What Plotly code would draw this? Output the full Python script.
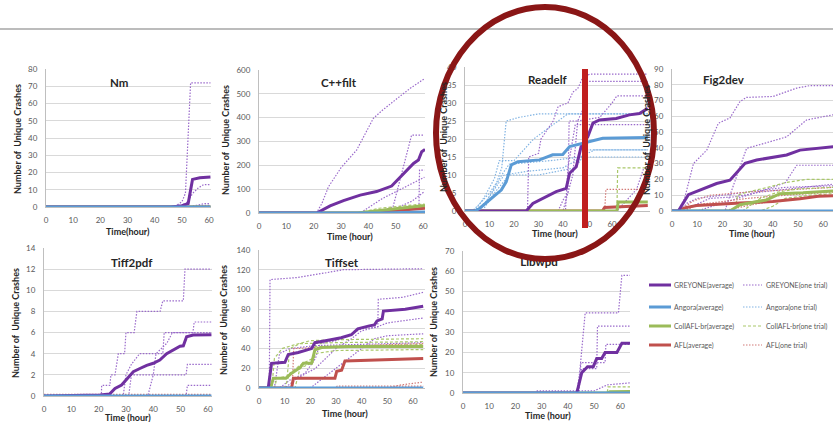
import plotly.graph_objects as go

W, H = 833, 422
PURPLE, PURPLE_T = "#7030A0", "#9A6ACB"
BLUE, BLUE_T = "#5B9BD5", "#82B4E3"
GREEN, GREEN_T = "#9BBB59", "#A9C76A"
RED, RED_T = "#C0504D", "#D27B78"

# ---------------- data: (hour, unique crashes) ----------------
# Nm
nm_greyone_avg = [(0, 0), (46, 0), (50, 0.8), (52.3, 2), (53.9, 16), (56.6, 17), (60.5, 17.4)]
nm_greyone_trials = [
    [(0, 0), (47, 0), (48, 1), (50, 3), (51.3, 8), (53.2, 72), (60.5, 72)],
    [(0, 0), (48, 0), (50, 1), (52, 3), (54, 8), (56, 11), (58, 13), (60.5, 13)],
    [(0, 0), (54, 0), (56, 1), (58, 2), (60.5, 2)],
    [(0, 0), (53, 0), (55, 1), (60.5, 1)],
]
nm_angora_avg = [(0, 0), (60.5, 0)]
nm_collafl_avg = [(0, 0), (60.5, 0)]
nm_afl_avg = [(0, 0), (60.5, 0)]

# C++filt
cf_greyone_avg = [(0, 0), (21.1, 0), (26, 30), (30.9, 52), (37, 75), (43, 90), (48.5, 113), (52.8, 166),
                  (56.5, 208), (58.3, 222), (59.5, 257), (60.7, 267)]
cf_greyone_trials = [
    [(0, 0), (21, 0), (23, 40), (25.4, 110), (30, 190), (35.7, 264), (41.8, 397), (45, 430), (49.8, 474),
     (55.3, 523), (60.7, 565)],
    [(0, 0), (40, 0), (45, 10), (49, 25), (55.8, 327), (60.4, 327)],
    [(0, 0), (37, 0), (45, 60), (52, 100), (60.5, 150)],
    [(0, 0), (38, 0), (50, 15), (58.5, 30), (58.7, 180), (60.5, 180)],
    [(0, 0), (42, 0), (50, 20), (56, 50), (60.5, 90)],
]
cf_collafl_avg = [(0, 0), (36, 0), (45, 12), (52, 22), (60.7, 32)]
cf_collafl_trials = [
    [(0, 0), (36, 0), (44, 20), (52, 30), (60.5, 38)],
    [(0, 0), (40, 0), (50, 15), (60.5, 25)],
]
cf_afl_avg = [(0, 0), (40, 0), (48, 8), (55, 15), (60.7, 20)]
cf_afl_trials = [[(0, 0), (42, 0), (50, 12), (60.5, 28)]]
cf_angora_avg = [(0, 0), (45, 0), (60.7, 4)]

# Readelf
re_angora_avg = [(0, 0), (4, 0), (5.9, 0.7), (8.6, 2.3), (11.3, 4), (14.8, 5.8), (16.8, 8.1), (18.9, 12.8),
                 (21.6, 13.7), (30.4, 14.2), (35.8, 15.6), (39.9, 15.7), (42.7, 17.9), (48.1, 18.8),
                 (53.6, 19.7), (56.2, 20.2), (74.6, 20.4)]
re_angora_trials = [
    [(0, 0), (3, 0), (6, 2), (10, 5), (13, 8), (15, 12), (16.8, 25), (22, 26), (30.4, 27), (74.6, 27)],
    [(0, 0), (4, 0), (8, 4), (12, 9), (14, 14), (20, 14), (28, 20), (40, 26), (42, 27), (74.6, 27)],
    [(0, 0), (6, 0), (10, 4), (16, 10), (25, 11), (40, 12), (48, 15), (74.6, 15)],
    [(0, 0), (5, 0), (9, 3), (15, 10), (18, 13), (35, 14), (47, 15), (53, 17), (74.6, 17)],
    [(0, 0), (7, 0), (12, 5), (18, 10), (30, 10), (45, 12), (50, 17), (74.6, 17)],
]
re_greyone_avg = [(0, 0), (25, 0), (27.7, 2.1), (30.4, 3), (34.5, 4.4), (37.2, 5.4), (41.3, 6.3), (42.7, 10.5),
                  (45.4, 12.3), (47.4, 17.9), (50.1, 20.6), (52.2, 24.4), (54.9, 25.3), (61.7, 25.7),
                  (67.1, 26.7), (71.2, 27.1), (74.6, 28.5)]
re_greyone_trials = [
    [(0, 0), (25.5, 0), (26, 15), (30, 16), (31, 20), (33, 22), (36, 25), (38, 29), (42, 30), (44, 33),
     (46, 34), (48, 37), (50.8, 38), (74.6, 38)],
    [(0, 0), (38, 0), (40, 3), (42, 5), (42.5, 25), (46, 25), (48, 28), (50, 36), (74.6, 36)],
    [(0, 0), (40, 0), (44, 10), (46, 25), (55, 26), (60, 30), (62, 32), (74.6, 32)],
    [(0, 0), (41, 0), (42, 12), (45, 24), (74.6, 24)],
    [(0, 0), (62, 0), (66, 3), (70, 6), (73, 12), (74.6, 12)],
]
re_collafl_avg = [(0, 0), (62, 0), (62.5, 2.5), (74.6, 2.5)]
re_collafl_trials = [[(0, 0), (62, 0), (62.3, 12), (74.6, 12)]]
re_afl_avg = [(0, 0), (56, 0), (57, 1), (62, 1.2), (74.6, 1.5)]
re_afl_trials = [[(0, 0), (57, 0), (57.5, 6), (74.6, 6)]]

# Fig2dev
fd_greyone_avg = [(0, 0), (2.5, 0), (6.5, 10.4), (11.1, 13.2), (17.7, 17.4), (23, 19.5), (29, 30.2),
                  (33.6, 32.3), (45.5, 35.5), (50.8, 38.6), (59.4, 40), (64, 40.7)]
fd_greyone_trials = [
    [(0, 0), (2.5, 0), (5, 8), (8.5, 30), (13.8, 38.6), (18.4, 55.6), (23, 59), (27, 69.4), (29.6, 72),
     (40.2, 72.6), (49.5, 77.9), (54.8, 79.5), (64, 79.5)],
    [(0, 0), (21, 0), (23, 10), (29.6, 39.7), (38.9, 43.9), (45.5, 47), (53.4, 57.7), (62.7, 61), (64, 61)],
    [(0, 0), (10, 0), (20, 5), (30, 10), (40, 15), (45, 18), (49.5, 29), (64, 29)],
    [(0, 0), (3, 0), (6, 5), (10, 8), (20, 10), (30, 12), (45, 15), (64, 16)],
    [(0, 0), (4, 0), (8, 3), (15, 8), (25, 9), (35, 12), (64, 17)],
]
fd_afl_avg = [(0, 0), (2.5, 0), (5, 2), (9.8, 3.5), (27, 5.1), (40, 6), (50.8, 7.7), (58, 9.4), (64, 9.6)]
fd_afl_trials = [
    [(0, 0), (3, 0), (8, 6), (15, 10), (30, 12), (50, 14), (64, 15)],
    [(0, 0), (5, 0), (10, 4), (30, 8), (45, 10), (64, 12)],
    [(0, 0), (20, 0), (35, 5), (50, 8), (64, 10)],
]
fd_collafl_avg = [(0, 0), (23, 0), (27, 4), (31, 5), (37.4, 7), (42.9, 11), (52, 11.5), (64, 12.7)]
fd_collafl_trials = [
    [(0, 0), (25, 0), (26, 10), (30, 12), (38, 15), (45, 18), (53, 20), (64, 20)],
    [(0, 0), (28, 0), (35, 8), (42, 12), (50, 14), (64, 15)],
    [(0, 0), (35, 0), (40, 3), (45, 8), (55, 10), (64, 11)],
]
fd_angora_avg = [(0, 0), (64, 0)]

# Tiff2pdf
tp_greyone_avg = [(0, 0), (20.5, 0.1), (24.1, 0.2), (26, 0.72), (28.4, 1.04), (30.9, 1.83), (32.7, 2.3),
                  (35.1, 2.6), (37.6, 2.9), (40, 3.1), (42.4, 3.4), (44.9, 4.0), (47.3, 4.35), (49.8, 4.7),
                  (51, 4.75), (52.2, 5.6), (54.6, 5.77), (61.3, 5.8)]
tp_greyone_trials = [
    [(0, 0), (21, 0), (21.1, 1), (24.1, 1), (24.5, 2), (26, 2), (27.2, 4), (29.5, 4), (30, 6), (33, 6),
     (34, 8), (42.5, 8), (43.5, 9), (51, 9), (51.6, 12), (61.3, 12)],
    [(0, 0), (29, 0), (30, 2), (32, 3), (35, 4), (43.5, 4), (44, 6), (54.5, 6), (55, 7), (61.3, 7)],
    [(0, 0), (31, 0), (32, 2), (40, 2), (41, 4), (45, 5), (47, 6), (61.3, 6)],
    [(0, 0), (38, 0), (39, 1), (40, 2), (52, 2), (52.5, 3), (61.3, 3)],
    [(0, 0), (52, 0), (52.5, 1), (61.3, 1)],
]
tp_afl_trials = [[(0, 0.15), (61.3, 0.15)]]
tp_angora_avg = [(0, 0), (61.3, 0)]

# Tiffset
ts_greyone_avg = [(0, 0), (3.6, 0), (4.9, 25), (10.1, 26), (11.4, 34), (15.3, 36), (20.5, 40), (21.8, 46),
                  (28, 49), (32, 51), (36, 54), (38.5, 60), (43, 63), (45, 64), (46, 68), (48, 70),
                  (48.5, 78), (57, 80), (64, 83)]
ts_greyone_trials = [
    [(0, 0), (4, 0), (4.3, 110), (14.7, 112), (26.4, 117), (32.8, 120), (64, 121)],
    [(0, 0), (8, 0), (12, 8), (18, 15), (22, 30), (23.8, 45), (30, 48), (36, 55), (40, 60), (46.3, 62),
     (46.5, 90), (56, 92), (64, 97)],
    [(0, 0), (10, 0), (15, 10), (22, 20), (30, 40), (36, 50), (40, 58), (46, 62), (50, 66), (56, 68), (64, 71)],
    [(0, 0), (20, 0), (25, 10), (30, 20), (35, 30), (40, 40), (45, 50), (50, 53), (64, 55)],
    [(0, 0), (6, 0), (8, 35), (12, 40), (22, 43), (40, 44), (64, 46)],
]
ts_collafl_avg = [(0, 0), (4.5, 0), (5.6, 10), (10.5, 10), (12.7, 15), (16, 20.6), (17.3, 25), (20.5, 25),
                  (21.8, 38.8), (24.4, 41), (35, 42), (64, 42)]
ts_collafl_trials = [
    [(0, 0), (5, 0), (6, 30), (9, 40), (14, 44), (20, 48), (30, 49), (64, 50)],
    [(0, 0), (6, 0), (7, 10), (11, 12), (12, 40), (16, 45), (30, 46), (64, 47)],
    [(0, 0), (10, 0), (12, 15), (17, 25), (21, 30), (22, 42), (40, 43), (64, 44)],
    [(0, 0), (14, 0), (16, 20), (21, 26), (22, 35), (30, 38), (64, 39)],
]
ts_afl_avg = [(0, 0), (12.7, 0), (13.4, 10), (29.6, 10), (30.3, 17), (32.2, 18), (33.5, 27.4), (45, 28.5),
              (64, 30)]
ts_afl_trials = [
    [(0, 0), (13, 0), (13.5, 40), (30, 42), (50, 44), (64, 45)],
    [(0, 0), (50, 0), (55, 3), (60, 5), (64, 6)],
    [(0, 0), (30, 0), (30.5, 2), (64, 2)],
]
ts_angora_avg = [(0, 0), (64, 0)]

# Libwpd
lw_greyone_avg = [(0, 0), (43.4, 0), (45.3, 10), (46.6, 12), (47.5, 13), (49.7, 13), (51, 17), (52.9, 17),
                  (54.2, 20), (58.7, 20), (60.6, 24.5), (63.7, 24.5)]
lw_greyone_trials = [
    [(0, 0), (43.4, 0), (44.5, 10), (46, 30), (46.6, 39.5), (59.3, 39.5), (60.6, 58), (63.7, 58)],
    [(0, 0), (44, 0), (45.3, 12), (51, 12), (51.3, 33), (63.7, 33)],
    [(0, 0), (44, 0), (45, 15), (54.2, 15), (54.5, 24), (63.7, 24)],
    [(0, 0), (28, 0), (28.3, 1), (50, 1), (55, 4), (63.7, 5)],
]
lw_collafl_avg = [(0, 0), (55, 0), (56, 0.6), (63.7, 0.8)]
lw_collafl_trials = [[(0, 0), (55, 0), (55.3, 3), (63.7, 3)]]
lw_angora_avg = [(0, 0), (63.7, 0)]

# -------- panels --------
panels = [
    dict(title="Nm", px=(46, 211), py=(69, 207), xr=[0, 60.7], yr=[0, 80], dy=10, xt="Time(hour)",
         tpos=(119, 82), xtpos=(128, 231), ytpos=(17, 139),
         trials=[("G", nm_greyone_trials)],
         avgs=[("R", nm_afl_avg), ("C", nm_collafl_avg), ("G", nm_greyone_avg), ("B", nm_angora_avg)]),
    dict(title="C++filt", px=(259, 425), py=(70, 213), xr=[0, 60.7], yr=[0, 600], dy=100, xt="Time (hour)",
         tpos=(339, 83), xtpos=(350, 236), ytpos=(225, 140),
         trials=[("G", cf_greyone_trials), ("C", cf_collafl_trials), ("R", cf_afl_trials)],
         avgs=[("R", cf_afl_avg), ("C", cf_collafl_avg), ("G", cf_greyone_avg), ("B", cf_angora_avg)]),
    dict(title="Readelf", px=(465, 650), py=(67, 211), xr=[0, 75.5], yr=[0, 40], dy=5, xt="Time (hour)",
         tpos=(548, 80), xtpos=(555, 234), ytpos=(443, 137), xticks=[0, 10, 20, 30, 40, 50, 60],
         trials=[("B", re_angora_trials), ("G", re_greyone_trials), ("C", re_collafl_trials), ("R", re_afl_trials)],
         avgs=[("R", re_afl_avg), ("C", re_collafl_avg), ("G", re_greyone_avg), ("B", re_angora_avg)]),
    dict(title="Fig2dev", px=(672, 833), py=(69, 211), xr=[0, 63.9], yr=[0, 90], dy=10, xt="Time (hour)",
         tpos=(724, 80), xtpos=(752, 233), ytpos=(646, 140),
         trials=[("G", fd_greyone_trials), ("R", fd_afl_trials), ("C", fd_collafl_trials)],
         avgs=[("R", fd_afl_avg), ("C", fd_collafl_avg), ("G", fd_greyone_avg), ("B", fd_angora_avg)]),
    dict(title="Tiff2pdf", px=(44, 212), py=(248, 396), xr=[0, 61.5], yr=[0, 14], dy=2, xt="Time (hour)",
         tpos=(132, 262), xtpos=(128, 417), ytpos=(15, 323),
         trials=[("G", tp_greyone_trials), ("R", tp_afl_trials)],
         avgs=[("G", tp_greyone_avg), ("B", tp_angora_avg)]),
    dict(title="Tiffset", px=(259, 425), py=(250, 388), xr=[0, 64.7], yr=[0, 140], dy=20, xt="Time (hour)",
         tpos=(342, 262), xtpos=(345, 413), ytpos=(223, 320),
         trials=[("G", ts_greyone_trials), ("C", ts_collafl_trials), ("R", ts_afl_trials)],
         avgs=[("R", ts_afl_avg), ("C", ts_collafl_avg), ("G", ts_greyone_avg), ("B", ts_angora_avg)]),
    dict(title="Libwpd", px=(463, 630), py=(251, 393), xr=[0, 63.7], yr=[0, 70], dy=10, xt="Time (hour)",
         tpos=(539, 263), xtpos=(548, 415), ytpos=(433, 322), title_under_circle=True,
         trials=[("G", lw_greyone_trials), ("C", lw_collafl_trials)],
         avgs=[("C", lw_collafl_avg), ("G", lw_greyone_avg), ("B", lw_angora_avg)]),
]

AVG_COLOR = {"G": PURPLE, "B": BLUE, "C": GREEN, "R": RED}
TRIAL_STYLE = {"G": (PURPLE_T, "1.5px,1.5px"), "B": (BLUE_T, "1.5px,1.5px"),
               "C": (GREEN_T, "3px,2px"), "R": (RED_T, "1.5px,1.5px")}

FONT = "Lato, 'Open Sans', sans-serif"
TXT = "#262626"
TICK = "#595959"


def px2paper_x(p):
    return p / W


def px2paper_y(p):
    return 1 - p / H


fig = go.Figure()
layout = dict(template="none", width=W, height=H,
              margin=dict(l=0, r=0, t=0, b=0, pad=0, autoexpand=False),
              paper_bgcolor="white", plot_bgcolor="rgba(0,0,0,0)", showlegend=False,
              font=dict(family=FONT, color=TXT))
annotations, shapes = [], []

for i, p in enumerate(panels):
    sfx = "" if i == 0 else str(i + 1)
    xa, ya = "x" + sfx, "y" + sfx
    for key, series_list in p["trials"]:
        col, dash = TRIAL_STYLE[key]
        for s in series_list:
            fig.add_trace(go.Scatter(x=[a for a, b in s], y=[b for a, b in s], mode="lines",
                                     line=dict(color=col, width=1.2, dash=dash), xaxis=xa, yaxis=ya,
                                     hoverinfo="skip"))
    for key, s in p["avgs"]:
        fig.add_trace(go.Scatter(x=[a for a, b in s], y=[b for a, b in s], mode="lines",
                                 line=dict(color=AVG_COLOR[key], width=3), xaxis=xa, yaxis=ya,
                                 hoverinfo="skip"))
    xd = [px2paper_x(p["px"][0]), px2paper_x(p["px"][1])]
    yd = [px2paper_y(p["py"][1]), px2paper_y(p["py"][0])]
    xaxis = dict(domain=xd, range=p["xr"], anchor=ya, automargin=False, showgrid=False, zeroline=False,
                 showline=True, linecolor="#BFBFBF", linewidth=1, ticks="", fixedrange=True,
                 tickfont=dict(size=8, color=TICK, family=FONT), ticklabelstandoff=5)
    if "xticks" in p:
        xaxis.update(tickmode="array", tickvals=p["xticks"])
    else:
        xaxis.update(dtick=10, tick0=0)
    yaxis = dict(domain=yd, range=p["yr"], anchor=xa, automargin=False, showgrid=True, gridcolor="#D9D9D9",
                 gridwidth=1, zeroline=False, showline=True, linecolor="#BFBFBF", linewidth=1, ticks="",
                 fixedrange=True, dtick=p["dy"], tick0=0, tickfont=dict(size=8, color=TICK, family=FONT),
                 ticklabelstandoff=6)
    layout["xaxis" + sfx] = xaxis
    layout["yaxis" + sfx] = yaxis

    if p.get("title_under_circle"):
        tx = p["xr"][0] + (p["tpos"][0] - p["px"][0]) / (p["px"][1] - p["px"][0]) * (p["xr"][1] - p["xr"][0])
        ty = p["yr"][0] + (p["py"][1] - p["tpos"][1]) / (p["py"][1] - p["py"][0]) * (p["yr"][1] - p["yr"][0])
        fig.add_trace(go.Scatter(x=[tx], y=[ty], mode="text", text=["<b>" + p["title"] + "</b>"],
                                 textfont=dict(size=11.5, color=TXT, family=FONT), xaxis=xa, yaxis=ya,
                                 cliponaxis=False, hoverinfo="skip"))
    else:
        annotations.append(dict(x=px2paper_x(p["tpos"][0]), y=px2paper_y(p["tpos"][1]), xref="paper",
                                yref="paper", text="<b>" + p["title"] + "</b>", showarrow=False,
                                xanchor="center", yanchor="middle",
                                font=dict(size=11.5, color=TXT, family=FONT)))
    annotations.append(dict(x=px2paper_x(p["xtpos"][0]), y=px2paper_y(p["xtpos"][1]), xref="paper",
                            yref="paper", text="<b>" + p["xt"] + "</b>", showarrow=False,
                            xanchor="center", yanchor="middle",
                            font=dict(size=9, color=TXT, family=FONT)))
    annotations.append(dict(x=px2paper_x(p["ytpos"][0]), y=px2paper_y(p["ytpos"][1]), xref="paper",
                            yref="paper", text="<b>Number of  Unique Crashes</b>", showarrow=False,
                            xanchor="center", yanchor="middle",
                            textangle=-90, font=dict(size=9, color=TXT, family=FONT)))

# ---------------- legend (two columns) ----------------
legend_rows = [
    ("GREYONE(average)", "GREYONE(one trial)", "G", 285),
    ("Angora(average)", "Angora(one trial)", "B", 307),
    ("CollAFL-br(average)", "CollAFL-br(one trial)", "C", 326),
    ("AFL(average)", "AFL(one trial)", "R", 345),
]
for left, right, key, ry in legend_rows:
    yy = px2paper_y(ry)
    shapes.append(dict(type="line", xref="paper", yref="paper", x0=px2paper_x(649), x1=px2paper_x(671),
                       y0=yy, y1=yy, line=dict(color=AVG_COLOR[key], width=3)))
    col, dash = TRIAL_STYLE[key]
    shapes.append(dict(type="line", xref="paper", yref="paper", x0=px2paper_x(743), x1=px2paper_x(762),
                       y0=yy, y1=yy, line=dict(color=col, width=1.2, dash=dash)))
    annotations.append(dict(x=px2paper_x(672), y=yy, xref="paper", yref="paper", text=left, showarrow=False,
                            xanchor="left", yanchor="middle", font=dict(size=7, color=TICK, family=FONT)))
    annotations.append(dict(x=px2paper_x(764), y=yy, xref="paper", yref="paper", text=right, showarrow=False,
                            xanchor="left", yanchor="middle", font=dict(size=7, color=TICK, family=FONT)))

# ---------------- decorations ----------------
shapes.append(dict(type="line", xref="paper", yref="paper", x0=0, x1=1, y0=px2paper_y(29), y1=px2paper_y(29),
                   line=dict(color="#A6A6A6", width=1.5), layer="below"))
shapes.append(dict(type="rect", xref="paper", yref="paper", x0=px2paper_x(582), x1=px2paper_x(588),
                   y0=px2paper_y(228), y1=px2paper_y(69), fillcolor="#C01F1F", line=dict(width=0),
                   layer="above"))
shapes.append(dict(type="circle", xref="paper", yref="paper", x0=px2paper_x(436), x1=px2paper_x(654),
                   y0=px2paper_y(259), y1=px2paper_y(7), line=dict(color="#8A1616", width=6),
                   fillcolor="rgba(0,0,0,0)", layer="above"))

layout["annotations"] = annotations
layout["shapes"] = shapes
fig.update_layout(**layout)
fig.write_html("out.html", config={"displayModeBar": False, "staticPlot": True},
               post_script="document.body.style.margin='0';document.body.style.overflow='hidden';")
